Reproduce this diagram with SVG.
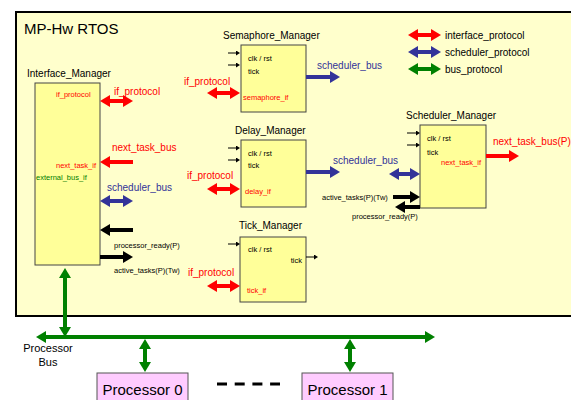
<svg xmlns="http://www.w3.org/2000/svg" width="571" height="400" viewBox="0 0 571 400">
<style>
text{font-family:"Liberation Sans",Arial,sans-serif}
.t{font-size:10px;fill:#000}
.s{font-size:7.5px;fill:#000}
.sr{font-size:7.5px;fill:#ff0000}
.sg{font-size:7.5px;fill:#008000}
.lr{font-size:10px;fill:#ff0000}
.lb{font-size:10px;fill:#333399}
.box{fill:#ffff99;stroke:#444;stroke-width:1}
.proc{fill:#ffccff;stroke:#555;stroke-width:1}
.ar{stroke:#ff0000;stroke-width:4;fill:none}
.ab{stroke:#333399;stroke-width:4;fill:none}
.ag{stroke:#008000;stroke-width:4;fill:none}
.ak{stroke:#000;stroke-width:4;fill:none}
.sk{stroke:#000;stroke-width:1;fill:none}
</style>
<defs>
<marker id="hr" markerUnits="userSpaceOnUse" markerWidth="10" markerHeight="12" viewBox="0 0 10 12" refX="0" refY="6" orient="auto-start-reverse"><path d="M0,0L10,6L0,12z" fill="#ff0000"/></marker>
<marker id="hb" markerUnits="userSpaceOnUse" markerWidth="10" markerHeight="12" viewBox="0 0 10 12" refX="0" refY="6" orient="auto-start-reverse"><path d="M0,0L10,6L0,12z" fill="#333399"/></marker>
<marker id="hg" markerUnits="userSpaceOnUse" markerWidth="10" markerHeight="12" viewBox="0 0 10 12" refX="0" refY="6" orient="auto-start-reverse"><path d="M0,0L10,6L0,12z" fill="#008000"/></marker>
<marker id="hk" markerUnits="userSpaceOnUse" markerWidth="10" markerHeight="12" viewBox="0 0 10 12" refX="0" refY="6" orient="auto-start-reverse"><path d="M0,0L10,6L0,12z" fill="#000"/></marker>
<marker id="sm" markerUnits="userSpaceOnUse" markerWidth="4" markerHeight="5" viewBox="0 0 4 5" refX="0" refY="2.5" orient="auto"><path d="M0,0L4,2.5L0,5z" fill="#000"/></marker>
</defs>

<g id="rtos">
<rect x="16" y="12" width="580" height="304" fill="#ffffcc" stroke="#000" stroke-width="2"/>
<text x="24" y="34" style="font-size:15px">MP-Hw RTOS</text>
</g>

<g id="legend">
<line class="ar" x1="418" y1="35" x2="431" y2="35" marker-start="url(#hr)" marker-end="url(#hr)"/>
<line class="ab" x1="418" y1="52" x2="431" y2="52" marker-start="url(#hb)" marker-end="url(#hb)"/>
<line class="ag" x1="418" y1="69" x2="431" y2="69" marker-start="url(#hg)" marker-end="url(#hg)"/>
<text class="t" x="445" y="39">interface_protocol</text>
<text class="t" x="445" y="56">scheduler_protocol</text>
<text class="t" x="445" y="73">bus_protocol</text>
</g>

<g id="interface_manager">
<rect class="box" x="35" y="83" width="65" height="182"/>
<text class="t" x="27" y="76.5">Interface_Manager</text>
<text class="sr" x="56" y="97">if_protocol</text>
<text class="sr" x="96" y="167.5" text-anchor="end">next_task_if</text>
<text class="sg" x="36" y="180">external_bus_if</text>
</g>

<g id="semaphore_manager">
<rect class="box" x="241" y="45" width="65" height="67"/>
<text class="t" x="223" y="38.5">Semaphore_Manager</text>
<text class="s" x="248" y="61">clk / rst</text>
<text class="s" x="248" y="73.5">tick</text>
<text class="sr" x="243" y="100">semaphore_if</text>
</g>

<g id="delay_manager">
<rect class="box" x="241" y="140" width="65" height="67"/>
<text class="t" x="235" y="134">Delay_Manager</text>
<text class="s" x="248" y="156">clk / rst</text>
<text class="s" x="248" y="168">tick</text>
<text class="sr" x="245" y="194">delay_if</text>
</g>

<g id="tick_manager">
<rect class="box" x="240" y="237" width="66" height="65"/>
<text class="t" x="239" y="229">Tick_Manager</text>
<text class="s" x="248" y="252">clk / rst</text>
<text class="s" x="302" y="263" text-anchor="end">tick</text>
<text class="sr" x="247" y="293">tick_if</text>
</g>

<g id="scheduler_manager">
<rect class="box" x="420" y="125" width="66" height="83"/>
<text class="t" x="406" y="118.5">Scheduler_Manager</text>
<text class="s" x="427" y="141">clk / rst</text>
<text class="s" x="427" y="154.5">tick</text>
<text class="sr" x="441" y="164.5">next_task_if</text>
</g>

<g id="processor_0">
<rect class="proc" x="97" y="373" width="91" height="40"/>
<text x="142.5" y="394.5" text-anchor="middle" style="font-size:15px">Processor 0</text>
</g>

<g id="processor_1">
<rect class="proc" x="302" y="373" width="91" height="40"/>
<text x="347.5" y="394.5" text-anchor="middle" style="font-size:15px">Processor 1</text>
</g>

<g id="connectors">
<!-- interface manager -->
<line class="ar" x1="110" y1="101" x2="123" y2="101" marker-start="url(#hr)" marker-end="url(#hr)"/>
<line class="ar" x1="133" y1="162" x2="110" y2="162" marker-end="url(#hr)"/>
<line class="ab" x1="110" y1="201" x2="123" y2="201" marker-start="url(#hb)" marker-end="url(#hb)"/>
<line class="ak" x1="133" y1="230" x2="110" y2="230" marker-end="url(#hk)"/>
<line class="ak" x1="100" y1="257" x2="123" y2="257" marker-end="url(#hk)"/>
<!-- semaphore -->
<line class="sk" x1="228" y1="53" x2="236" y2="53" marker-end="url(#sm)"/>
<line class="sk" x1="228" y1="65" x2="236" y2="65" marker-end="url(#sm)"/>
<line class="ar" x1="217" y1="93" x2="230" y2="93" marker-start="url(#hr)" marker-end="url(#hr)"/>
<line class="ab" x1="306" y1="77" x2="330" y2="77" marker-end="url(#hb)"/>
<!-- delay -->
<line class="sk" x1="228" y1="148" x2="236" y2="148" marker-end="url(#sm)"/>
<line class="sk" x1="228" y1="160" x2="236" y2="160" marker-end="url(#sm)"/>
<line class="ar" x1="217" y1="189" x2="230" y2="189" marker-start="url(#hr)" marker-end="url(#hr)"/>
<line class="ab" x1="306" y1="172" x2="330" y2="172" marker-end="url(#hb)"/>
<!-- tick -->
<line class="sk" x1="228" y1="244" x2="236" y2="244" marker-end="url(#sm)"/>
<line class="sk" x1="306" y1="257" x2="314" y2="257" marker-end="url(#sm)"/>
<line class="ar" x1="217" y1="286" x2="230" y2="286" marker-start="url(#hr)" marker-end="url(#hr)"/>
<!-- scheduler -->
<line class="sk" x1="407" y1="133" x2="416" y2="133" marker-end="url(#sm)"/>
<line class="sk" x1="407" y1="145" x2="416" y2="145" marker-end="url(#sm)"/>
<line class="ar" x1="486" y1="156" x2="509" y2="156" marker-end="url(#hr)"/>
<line class="ab" x1="399" y1="174" x2="410" y2="174" marker-start="url(#hb)" marker-end="url(#hb)"/>
<line class="ak" x1="393" y1="197" x2="410" y2="197" marker-end="url(#hk)"/>
<line class="ak" x1="420" y1="207" x2="405" y2="207" marker-end="url(#hk)"/>
<!-- bus -->
<line class="ag" x1="65" y1="278" x2="65" y2="327" marker-start="url(#hg)" marker-end="url(#hg)"/>
<line class="ag" x1="46" y1="337" x2="425" y2="337" marker-start="url(#hg)" marker-end="url(#hg)"/>
<line class="ag" x1="145" y1="349" x2="145" y2="362" marker-start="url(#hg)" marker-end="url(#hg)"/>
<line class="ag" x1="350" y1="349" x2="350" y2="362" marker-start="url(#hg)" marker-end="url(#hg)"/>
<line x1="217" y1="384" x2="280" y2="384" stroke="#000" stroke-width="3" stroke-dasharray="10 7.7"/>
</g>

<g id="labels">
<text class="lr" x="114" y="94.5">if_protocol</text>
<text class="lr" x="112" y="151">next_task_bus</text>
<text class="lb" x="107" y="190.5">scheduler_bus</text>
<text class="s" x="114" y="247.5">processor_ready(P)</text>
<text class="s" x="114" y="273">active_tasks(P)(Tw)</text>
<text class="lr" x="184" y="85">if_protocol</text>
<text class="lb" x="317" y="69">scheduler_bus</text>
<text class="lr" x="187" y="179">if_protocol</text>
<text class="lb" x="333" y="164">scheduler_bus</text>
<text class="lr" x="188" y="276">if_protocol</text>
<text class="lr" x="493" y="144.5">next_task_bus(P)</text>
<text class="s" x="322" y="200">active_tasks(P)(Tw)</text>
<text class="s" x="352" y="219">processor_ready(P)</text>
<text x="48" y="352" text-anchor="middle" style="font-size:11px">Processor</text>
<text x="48" y="366" text-anchor="middle" style="font-size:11px">Bus</text>
</g>
</svg>
